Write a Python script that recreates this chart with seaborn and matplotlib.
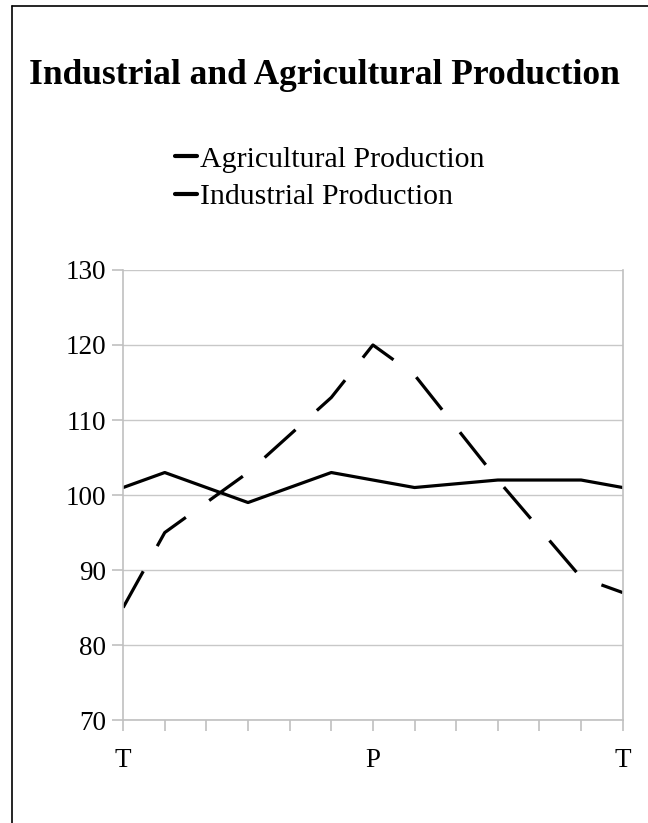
import pandas as pd
import numpy as np
import matplotlib
matplotlib.use('Agg')
import matplotlib.pyplot as plt
from matplotlib.lines import Line2D
import seaborn as sns

# values
periods = list(range(13))
tick_labels = ['T', '', '', '', '', '', 'P', '', '', '', '', '', 'T']
agricultural = [85, 95, 99, 103, 108, 113, 120, 116, 109, 102, 95.5, 89, 87]
industrial = [101, 103, 101, 99, 101, 103, 102, 101, 101.5, 102, 102, 102, 101]

df = pd.DataFrame({
    'period': periods * 2,
    'value': agricultural + industrial,
    'series': ['Agricultural Production'] * 13 + ['Industrial Production'] * 13,
})

sns.set_theme(style='white')
plt.rcParams['font.family'] = ['Liberation Serif', 'DejaVu Serif']
plt.rcParams['text.color'] = 'black'

fig = plt.figure(figsize=(6.48, 8.23), dpi=100)
ax = fig.add_axes([0.19, 0.125, 0.771, 0.547])

sns.lineplot(data=df[df.series == 'Agricultural Production'], x='period', y='value',
             ax=ax, color='black', linewidth=2.3, linestyle=(0, (13, 9)))
sns.lineplot(data=df[df.series == 'Industrial Production'], x='period', y='value',
             ax=ax, color='black', linewidth=2.3)

ax.set_xlim(0, 12)
ax.set_ylim(70, 130)
ax.set_yticks(range(70, 131, 10))
ax.set_xticks(periods)
ax.set_xticklabels(tick_labels)
ax.set_xlabel('')
ax.set_ylabel('')
ax.grid(axis='y', color='#c8c8c8', linewidth=1.0)
ax.set_axisbelow(True)

for side in ['left', 'bottom', 'right']:
    ax.spines[side].set_visible(True)
    ax.spines[side].set_color('#c0c0c0')
    ax.spines[side].set_linewidth(1.2)
ax.spines['top'].set_visible(False)

ax.tick_params(axis='both', which='major', labelsize=19.5, labelcolor='black',
               color='#c0c0c0', length=8, width=1.2, direction='out')
ax.tick_params(axis='y', pad=4)
ax.tick_params(axis='x', pad=12)
ax.tick_params(left=True, bottom=True)

fig.text(0.5, 0.908, 'Industrial and Agricultural Production', ha='center',
         va='center', fontsize=25.5, fontweight='bold', color='black')

handles = [Line2D([0], [0], color='black', linewidth=3),
           Line2D([0], [0], color='black', linewidth=3)]
fig.legend(handles, ['Agricultural Production', 'Industrial Production'],
           loc='upper left', bbox_to_anchor=(0.27, 0.823), frameon=False,
           fontsize=21.5, handlelength=0.75, handletextpad=0.1, labelspacing=0.36,
           borderpad=0, borderaxespad=0, labelcolor='black')

# frame edges at top and left only, as in the source image
fig.add_artist(Line2D([12 / 648, 1], [1 - 6 / 823, 1 - 6 / 823], transform=fig.transFigure,
                      color='black', linewidth=1.2))
fig.add_artist(Line2D([12 / 648, 12 / 648], [0, 1 - 6 / 823], transform=fig.transFigure,
                      color='black', linewidth=1.2))

fig.savefig('out.png', dpi=100)
